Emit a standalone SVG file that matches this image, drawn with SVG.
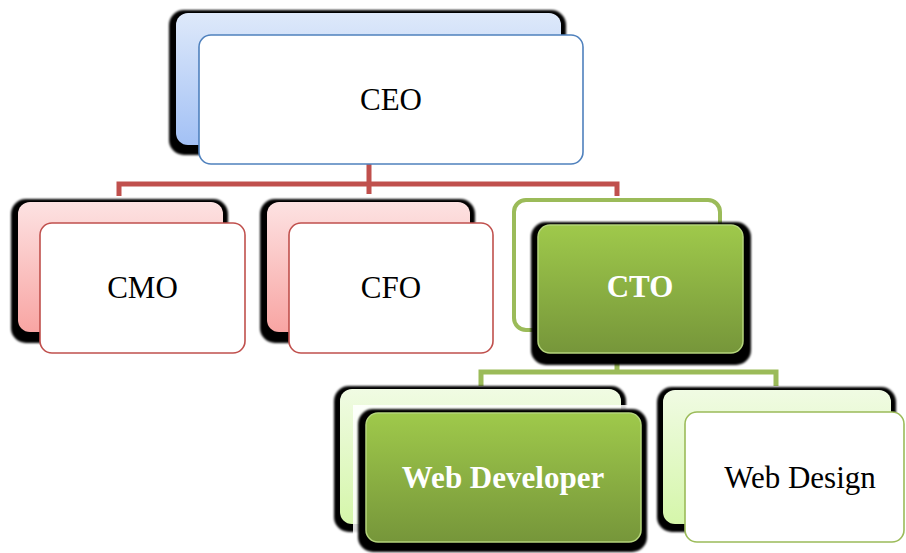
<svg xmlns="http://www.w3.org/2000/svg" width="906" height="553" viewBox="0 0 906 553">
<defs>
<linearGradient id="gBlue" x1="0" y1="0" x2="0" y2="1"><stop offset="0" stop-color="#dee9fa"/><stop offset="1" stop-color="#a3c1f5"/></linearGradient>
<linearGradient id="gRed" x1="0" y1="0" x2="0" y2="1"><stop offset="0" stop-color="#fde2e2"/><stop offset="1" stop-color="#f8a5a3"/></linearGradient>
<linearGradient id="gLight" x1="0" y1="0" x2="0" y2="1"><stop offset="0" stop-color="#f0fbe3"/><stop offset="1" stop-color="#d5f6aa"/></linearGradient>
<linearGradient id="gGreen" x1="0" y1="0" x2="0" y2="1"><stop offset="0" stop-color="#9fc94b"/><stop offset="1" stop-color="#76963a"/></linearGradient>
<filter id="soft" x="-5%" y="-5%" width="110%" height="110%"><feGaussianBlur stdDeviation="0.8"/></filter>
</defs>
<style>
.sh{fill:#000;filter:url(#soft)}
.front{fill:#fff;stroke-width:1.6}
.lbl{font-family:"Liberation Serif","Times New Roman",serif;font-size:31px;text-anchor:middle;fill:#000}
.bold{font-weight:bold;fill:#fff}
.red{fill:none;stroke:#c0504d;stroke-width:5}
.grn{fill:none;stroke:#9bbb59;stroke-width:5}
</style>
<g id="connectors">
<path class="red" d="M369 164V194M119 196V184H617V196"/>
<path class="grn" d="M617 355V372M481 386V372H776V386"/>
</g>
<g id="ceo">
<rect class="sh" x="169" y="10" width="397" height="145" rx="15"/>
<rect x="176" y="13" width="385" height="132" rx="12" fill="url(#gBlue)"/>
<rect class="front" x="199" y="35" width="384" height="129" rx="12" stroke="#4f81bd"/>
<text class="lbl" x="391" y="110">CEO</text>
</g>
<g id="cmo">
<rect class="sh" x="11" y="199" width="217" height="144" rx="15"/>
<rect x="18" y="202" width="205" height="130" rx="12" fill="url(#gRed)"/>
<rect class="front" x="40" y="223" width="205" height="130" rx="12" stroke="#c0504d"/>
<text class="lbl" x="142.5" y="298">CMO</text>
</g>
<g id="cfo">
<rect class="sh" x="260" y="199" width="215" height="144" rx="15"/>
<rect x="267" y="202" width="203" height="130" rx="12" fill="url(#gRed)"/>
<rect class="front" x="289" y="223" width="204" height="130" rx="12" stroke="#c0504d"/>
<text class="lbl" x="391" y="298">CFO</text>
</g>
<g id="cto">
<rect x="514" y="200" width="206" height="130" rx="12" fill="#fff" stroke="#9bbb59" stroke-width="4"/>
<rect class="sh" x="531" y="222" width="220" height="143" rx="15"/>
<rect x="538" y="225" width="205" height="128" rx="12" fill="url(#gGreen)" stroke="#b5d57c" stroke-width="1.5"/>
<text class="lbl bold" x="640" y="297">CTO</text>
</g>
<g id="webdev">
<rect class="sh" x="334" y="386" width="292" height="146" rx="15"/>
<rect x="340" y="389" width="281" height="135" rx="12" fill="url(#gLight)"/>
<rect x="353" y="405" width="298" height="148" fill="#fff" opacity="0.85"/>
<rect class="sh" x="358" y="409" width="289" height="143" rx="15"/>
<rect x="366" y="413" width="275" height="129" rx="12" fill="url(#gGreen)" stroke="#b5d57c" stroke-width="1.5"/>
<text class="lbl bold" x="503" y="488">Web Developer</text>
</g>
<g id="webdesign">
<rect class="sh" x="657" y="387" width="239" height="145" rx="15"/>
<rect x="663" y="390" width="228" height="134" rx="12" fill="url(#gLight)"/>
<rect class="front" x="685" y="412" width="219" height="130" rx="12" stroke="#9bbb59"/>
<text class="lbl" x="800" y="488">Web Design</text>
</g>
</svg>
